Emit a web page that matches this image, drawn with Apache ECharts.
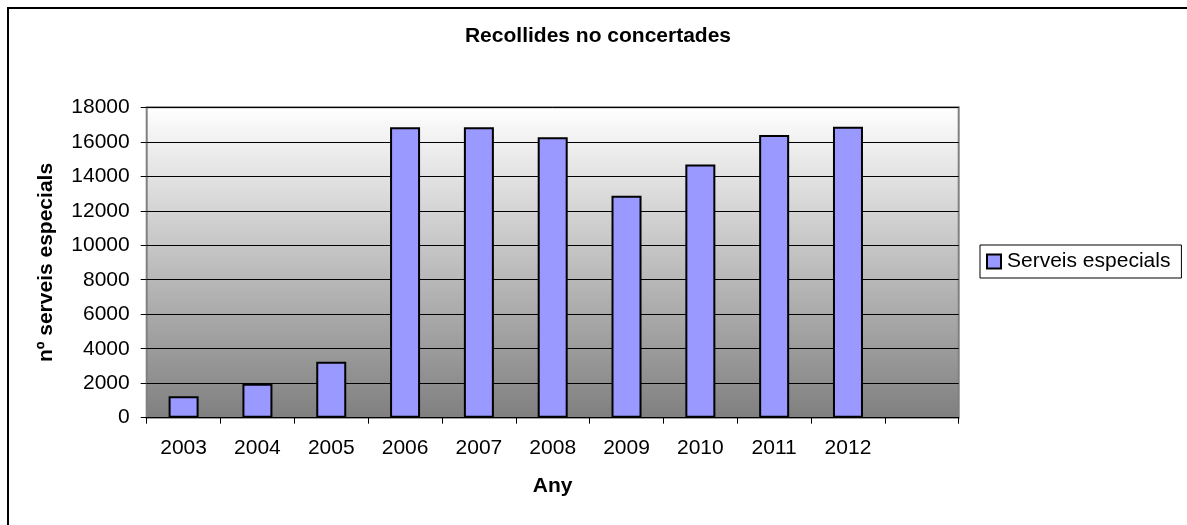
<!DOCTYPE html>
<html>
<head>
<meta charset="utf-8">
<script src="https://cdn.jsdelivr.net/npm/echarts@6/dist/echarts.min.js"></script>
<style>
html,body{margin:0;padding:0;background:#fff;}
#c{width:1187px;height:525px;}
</style>
</head>
<body>
<div id="c"></div>
<script>
const categories = ['2003','2004','2005','2006','2007','2008','2009','2010','2011','2012',''];
const serveisEspecials = [1250, 1970, 3250, 16840, 16840, 16260, 12870, 14690, 16390, 16870, null];
const seriesName = 'Serveis especials';
const titleText = 'Recollides no concertades';
const yAxisName = 'nº serveis especials';
const xAxisName = 'Any';

const FONT = "'Liberation Sans', Arial, sans-serif";
const chart = echarts.init(document.getElementById('c'), null, {renderer: 'canvas'});
chart.setOption({
  animation: false,
  backgroundColor: '#ffffff',
  textStyle: {fontFamily: FONT},
  title: {
    text: titleText,
    left: 598, top: 26, textAlign: 'center', padding: 0,
    textStyle: {fontFamily: FONT, fontSize: 21, fontWeight: 'bold', color: '#000'}
  },
  graphic: [{
    type: 'rect', x: 8, y: 8, silent: true,
    shape: {x: 0, y: 0, width: 1400, height: 800},
    style: {fill: 'none', stroke: '#000', lineWidth: 2}
  }],
  legend: {
    left: 980, top: 245, orient: 'vertical',
    padding: [6, 11, 6, 6],
    borderColor: '#000', borderWidth: 1,
    itemWidth: 14, itemHeight: 14, itemGap: 0,
    icon: 'rect',
    textStyle: {fontFamily: FONT, fontSize: 21, color: '#000', padding: [0, 0, 0, 1]},
    data: [seriesName]
  },
  grid: {
    left: 146.7, right: 228.3, top: 107.3, bottom: 107.3,
    show: true,
    borderColor: '#808080', borderWidth: 2,
    backgroundColor: {
      type: 'linear', x: 0, y: 0, x2: 0, y2: 1,
      colorStops: [{offset: 0, color: '#ffffff'}, {offset: 1, color: '#7f7f7f'}]
    }
  },
  xAxis: {
    type: 'category',
    data: categories,
    name: xAxisName, nameLocation: 'middle', nameGap: 58,
    nameTextStyle: {fontFamily: FONT, fontSize: 21, fontWeight: 'bold', color: '#000'},
    axisLine: {show: true, lineStyle: {color: '#000', width: 1}},
    axisTick: {show: true, interval: 0, length: 6, lineStyle: {color: '#000'}},
    axisLabel: {interval: 0, margin: 20, fontFamily: FONT, fontSize: 21, color: '#000'},
    splitLine: {show: false}
  },
  yAxis: {
    type: 'value', min: 0, max: 18000, interval: 2000,
    name: yAxisName, nameLocation: 'middle', nameGap: 90, nameRotate: 90,
    nameTextStyle: {fontFamily: FONT, fontSize: 21, fontWeight: 'bold', color: '#000'},
    axisLine: {show: true, lineStyle: {color: '#808080', width: 1}},
    axisTick: {show: true, length: 6, lineStyle: {color: '#000'}},
    axisLabel: {margin: 17, fontFamily: FONT, fontSize: 21, color: '#000', formatter: function (v) { return String(v); }},
    splitLine: {show: true, lineStyle: {color: '#000', width: 1}}
  },
  series: [{
    name: seriesName,
    type: 'bar',
    data: serveisEspecials,
    barWidth: 30,
    itemStyle: {color: '#9999ff', borderColor: '#000', borderWidth: 2}
  }]
});
</script>
</body>
</html>
